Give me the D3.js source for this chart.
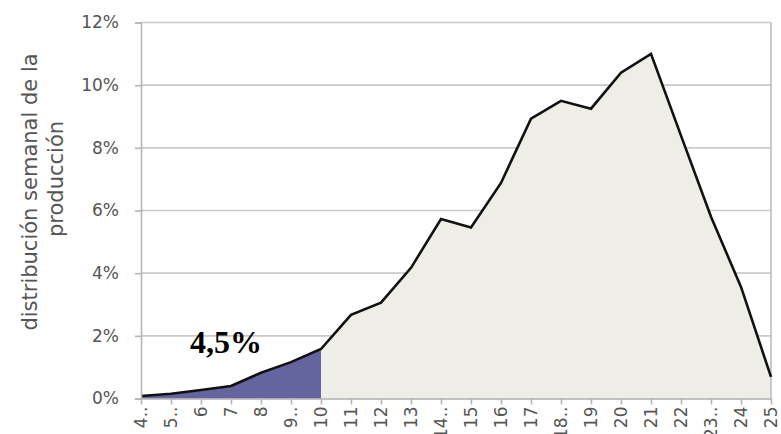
<!DOCTYPE html>
<html>
<head>
	<meta http-equiv="Content-Type" content="text/html;charset=UTF-8">
	<title>Distribucion semanal de la produccion</title>
	<style>
		body { margin: 0; background: #fff; }
		.tick-label { font-family: "DejaVu Sans", sans-serif; font-size: 17px; fill: #555; }
		.axis-title { font-family: "DejaVu Sans", sans-serif; font-size: 21px; fill: #555; }
		.grid-line { stroke: #c9c9c9; stroke-width: 1.6; }
	</style>
</head>
<body>
	<div class="drawing"></div>

	<script src="https://d3js.org/d3.v7.min.js"></script>
	<script type="text/javascript">
		var w = 781;
		var h = 434;

		/* data */
		var weeks = [4, 5, 6, 7, 8, 9, 10, 11, 12, 13, 14, 15, 16, 17, 18, 19, 20, 21, 22, 23, 24, 25];
		var weekLabels = ["4..", "5..", "6", "7", "8", "9..", "10", "11", "12", "13", "14..", "15",
			"16", "17", "18..", "19", "20", "21", "22", "23..", "24", "25"];
		var share = [0.08, 0.15, 0.27, 0.4, 0.82, 1.16, 1.58, 2.67, 3.06, 4.17, 5.73, 5.46,
			6.88, 8.93, 9.5, 9.25, 10.4, 11.0, 8.39, 5.8, 3.56, 0.69];
		var yTicks = [0, 2, 4, 6, 8, 10, 12];
		var cutWeek = 10;
		var cutLabel = "4,5%";
		var yTitle = ["distribución semanal de la", "producción"];

		var pLeft = 141, pRight = 771, pTop = 22.5, pBottom = 398.5;

		var SVG = d3.select("div.drawing").append("svg")
			.attr("width", w)
			.attr("height", h);

		var XScale = d3.scalePoint().domain(weeks).range([pLeft, pRight]);
		var YScale = d3.scaleLinear().domain([0, 12]).range([pBottom, pTop]);

		var points = weeks.map(function(wk, i){ return { week: wk, v: share[i] }; });

		/* grid lines */
		SVG.append("g").selectAll("line")
			.data(yTicks)
			.enter().append("line")
			.classed("grid-line", true)
			.attr("x1", pLeft).attr("x2", pRight)
			.attr("y1", function(d){ return YScale(d); })
			.attr("y2", function(d){ return YScale(d); });

		/* areas */
		var area = d3.area()
			.x(function(d){ return XScale(d.week); })
			.y0(YScale(0))
			.y1(function(d){ return YScale(d.v); });

		SVG.append("path")
			.datum(points.filter(function(d){ return d.week >= cutWeek; }))
			.attr("fill", "#eeeee7")
			.attr("d", area);

		SVG.append("path")
			.datum(points.filter(function(d){ return d.week <= cutWeek; }))
			.attr("fill", "#64659f")
			.attr("d", area);

		/* right side of frame */
		SVG.append("line")
			.attr("x1", pRight).attr("x2", pRight)
			.attr("y1", YScale(12)).attr("y2", YScale(0))
			.attr("stroke", "#bdbdbd").attr("stroke-width", 1.6);

		/* line */
		var line = d3.line()
			.x(function(d){ return XScale(d.week); })
			.y(function(d){ return YScale(d.v); });

		SVG.append("path")
			.datum(points)
			.attr("fill", "none")
			.attr("stroke", "#111")
			.attr("stroke-width", 2.6)
			.attr("d", line);

		/* y axis */
		var YAxis = d3.axisLeft(YScale)
			.tickValues(yTicks)
			.tickSize(6)
			.tickPadding(16)
			.tickFormat(function(d){ return d + "%"; });

		var gy = SVG.append("g")
			.attr("transform", "translate(" + pLeft + ",0)")
			.call(YAxis);
		gy.attr("font-size", null).attr("font-family", null);
		gy.selectAll("path, line").attr("stroke", "#b5b5b5").attr("stroke-width", 1.6);
		gy.selectAll("text").attr("class", "tick-label");

		/* x axis */
		var XAxis = d3.axisBottom(XScale)
			.tickSize(6)
			.tickSizeOuter(0)
			.tickFormat(function(d, i){ return weekLabels[i]; });

		var gx = SVG.append("g")
			.attr("transform", "translate(0," + pBottom + ")")
			.call(XAxis);
		gx.attr("font-size", null).attr("font-family", null);
		gx.selectAll("path, line").attr("stroke", "#b5b5b5").attr("stroke-width", 1.6);
		gx.selectAll("text")
			.attr("class", "tick-label")
			.attr("text-anchor", "end")
			.attr("dy", "0.35em")
			.attr("transform", "rotate(-90)")
			.attr("x", -8)
			.attr("y", 0);

		/* y title */
		SVG.append("text")
			.attr("class", "axis-title")
			.attr("text-anchor", "middle")
			.attr("transform", "translate(37,192) rotate(-90)")
			.text(yTitle[0]);
		SVG.append("text")
			.attr("class", "axis-title")
			.attr("text-anchor", "middle")
			.attr("transform", "translate(63,179) rotate(-90)")
			.text(yTitle[1]);

		/* label for shaded part */
		SVG.append("text")
			.attr("x", 190)
			.attr("y", 353)
			.attr("font-family", "Liberation Serif, serif")
			.attr("font-weight", "bold")
			.attr("font-size", 32)
			.attr("fill", "#000")
			.text(cutLabel);
	</script>
</body>
</html>
